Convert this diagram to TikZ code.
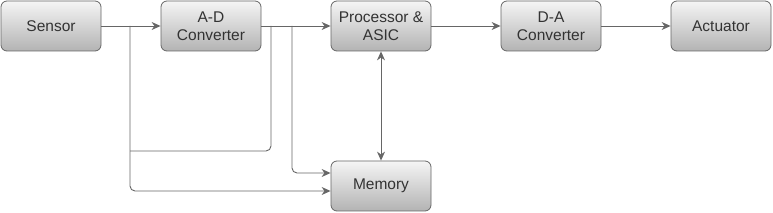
\documentclass[tikz,border=0pt]{standalone}
\usepackage{fontspec}
\setmainfont{Liberation Sans}
\usetikzlibrary{arrows.meta}
\definecolor{linegray}{HTML}{666666}
\definecolor{textgray}{HTML}{333333}
\definecolor{topgray}{HTML}{F5F5F5}
\definecolor{botgray}{HTML}{B3B3B3}
\begin{document}
\begin{tikzpicture}[x=1pt, y=-1pt,
    block/.style={draw=linegray, line width=0.8pt, rounded corners=6pt,
      top color=topgray, bottom color=botgray, minimum width=100pt,
      minimum height=50pt, inner sep=0pt, align=center, text=textgray,
      font=\fontsize{15.5}{18}\selectfont},
    wire/.style={draw=linegray, line width=0.9pt, rounded corners=5pt},
    arr/.style={wire, -{Stealth[length=9pt, width=8pt]}},
    biarr/.style={wire, {Stealth[length=9pt, width=8pt]}-{Stealth[length=9pt, width=8pt]}}]
  \useasboundingbox (0,0) rectangle (773,213);
  % Blocks along the top row
  \node[block] (sensor) at (51,26) {Sensor};
  \node[block] (adc) at (211,26) {A-D\\Converter};
  \node[block] (proc) at (381,26) {Processor \&\\ASIC};
  \node[block] (dac) at (551,26) {D-A\\Converter};
  \node[block] (act) at (721,26) {Actuator};
  % Memory block below the processor
  \node[block] (mem) at (381,186) {Memory};
  % Main signal chain
  \draw[arr] (sensor) -- (adc);
  \draw[arr] (adc) -- (proc);
  \draw[arr] (proc) -- (dac);
  \draw[arr] (dac) -- (act);
  \draw[biarr] (proc) -- (mem);
  % Taps feeding the memory
  \coordinate (tapS) at (130,26);
  \coordinate (tapA) at (271,26);
  \coordinate (tapB) at (292,26);
  \coordinate (join) at (130,151);
  \draw[arr] (tapS) |- ([yshift=-5pt]mem.west);
  \draw[wire] (tapA) |- (join);
  \draw[arr] (tapB) |- ([yshift=13pt]mem.west);
\end{tikzpicture}
\end{document}
